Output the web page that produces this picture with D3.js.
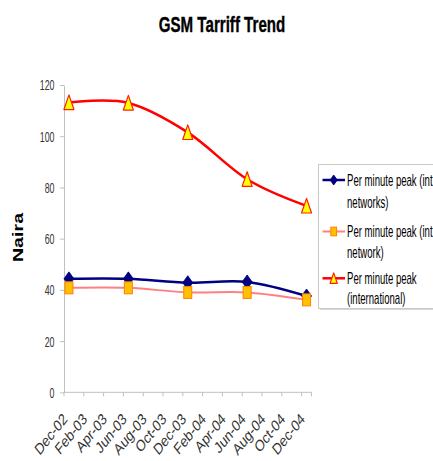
<!DOCTYPE html>
<html><head><meta charset="utf-8">
<script src="https://cdn.jsdelivr.net/npm/d3@7"></script>
<style>
html,body{margin:0;padding:0;background:#fff;overflow:hidden}
text{font-family:"Liberation Sans",Arial,sans-serif}
</style>
</head><body>
<svg id="chart" width="433" height="461"></svg>
<script>
// ---- data ----
const months = ["Dec-02","Jan-03","Feb-03","Mar-03","Apr-03","May-03","Jun-03","Jul-03","Aug-03","Sep-03","Oct-03","Nov-03",
  "Dec-03","Jan-04","Feb-04","Mar-04","Apr-04","May-04","Jun-04","Jul-04","Aug-04","Sep-04","Oct-04","Nov-04","Dec-04"];
const tickLabels = ["Dec-02","Feb-03","Apr-03","Jun-03","Aug-03","Oct-03","Dec-03","Feb-04","Apr-04","Jun-04","Aug-04","Oct-04","Dec-04"];
const dates = ["Dec-02","Jun-03","Dec-03","Jun-04","Dec-04"];
const interNetworks = [44.3, 44.3, 42.8, 43.1, 37.6];
const intraNetwork = [40.8, 40.8, 39.0, 39.0, 36.1];
const international = [113.2, 113.0, 101.5, 83.2, 72.8];
const yTicks = [0, 20, 40, 60, 80, 100, 120];
// legend texts as visible in the (cropped) original
const seriesNames = [["Per minute peak (int", "networks)"], ["Per minute peak (int", "network)"], ["Per minute peak", "(international)"]];

// ---- layout ----
const SY = 1.27; // vertical stretch of the original picture
const NX = 0.82; // narrow-font horizontal factor
const svg = d3.select("#chart");
svg.append("rect").attr("width", 433).attr("height", 461).attr("fill", "#fff");

const x = d3.scaleBand().domain(months).range([64, 311.5]).padding(0);
const y = d3.scaleLinear().domain([0, 120]).range([392.3, 85]);
const px = d => x(d) + x.bandwidth() / 2;

const series = [
  {values: interNetworks, color: "#000080", width: 2.5, marker: "diamond"},
  {values: intraNetwork, color: "#FF8080", width: 2, marker: "square"},
  {values: international, color: "#FF0000", width: 2.5, marker: "triangle"}
];

// title
svg.append("text").attr("transform", `translate(222,31.5) scale(0.84,${SY})`)
  .attr("text-anchor", "middle").attr("font-weight", "bold").attr("font-size", 18).attr("fill", "#000")
  .attr("stroke", "#000").attr("stroke-width", 0.3)
  .text("GSM Tarriff Trend");

// y axis label
svg.append("text").attr("transform", `translate(22.5,237.5) scale(1,${SY}) rotate(-90)`)
  .attr("text-anchor", "middle").attr("font-weight", "bold").attr("font-size", 15.5)
  .text("Naira");

// y axis
const gy = svg.append("g").attr("transform", "translate(64,0)")
  .call(d3.axisLeft(y).tickValues(yTicks).tickSize(4).tickSizeOuter(0));
gy.attr("font-family", null);
gy.select(".domain").attr("stroke", "#c0c0c0");
gy.selectAll(".tick line").attr("stroke", "#c0c0c0");
gy.selectAll(".tick text").attr("font-size", 10.8).attr("fill", "#333")
  .attr("transform", `translate(-9.5,0) scale(${NX},${SY})`).attr("x", 0).attr("dy", "0.36em");

// x axis
const gx = svg.append("g");
gx.append("line").attr("x1", x.range()[0]).attr("x2", x.range()[1]).attr("y1", y(0)).attr("y2", y(0)).attr("stroke", "#c0c0c0");
gx.selectAll("line.tk").data(tickLabels).join("line").attr("class", "tk")
  .attr("x1", d => x(d)).attr("x2", d => x(d)).attr("y1", y(0)).attr("y2", y(0) + 4).attr("stroke", "#c0c0c0");
gx.append("line").attr("x1", x.range()[1]).attr("x2", x.range()[1]).attr("y1", y(0)).attr("y2", y(0) + 4).attr("stroke", "#c0c0c0");
gx.selectAll("text").data(tickLabels).join("text")
  .attr("transform", d => `translate(${x(d) + 1},416) scale(1,${SY}) rotate(-45)`)
  .attr("text-anchor", "end").attr("dy", "0.35em").attr("font-size", 12.5).attr("fill", "#333").text(d => d);

// lines
const line = d3.line().x(d => px(d.date)).y(d => y(d.v)).curve(d3.curveCardinal.tension(0));
series.forEach(s => {
  const pts = dates.map((d, i) => ({date: d, v: s.values[i]}));
  svg.append("path").datum(pts).attr("d", line).attr("fill", "none")
    .attr("stroke", s.color).attr("stroke-width", s.width).attr("stroke-linejoin", "round");
});

// markers
function marker(g, type, cx, cy, k) {
  if (type === "diamond") {
    const w = 5 * k, h = 7 * k;
    g.append("path").attr("d", `M${cx},${cy - h}L${cx + w},${cy}L${cx},${cy + h}L${cx - w},${cy}Z`).attr("fill", "#000080").attr("stroke", "#000080").attr("stroke-width", 0.8);
  } else if (type === "square") {
    const w = 4 * k, h = 6 * k;
    g.append("rect").attr("x", cx - w).attr("y", cy - h).attr("width", 2 * w).attr("height", 2 * h)
      .attr("fill", "#FFC000").attr("stroke", "#FF8000").attr("stroke-width", 1);
  } else {
    const w = 5 * k, h = 7.5 * k;
    g.append("path").attr("d", `M${cx},${cy - h}L${cx + w},${cy + h * 0.95}L${cx - w},${cy + h * 0.95}Z`)
      .attr("fill", "#FFFF00").attr("stroke", "#FF2000").attr("stroke-width", 1.2).attr("stroke-linejoin", "round");
  }
}
const gm = svg.append("g");
series.forEach(s => dates.forEach((d, i) => marker(gm, s.marker, px(d), y(s.values[i]), 1)));

// legend
const lg = svg.append("g");
lg.append("rect").attr("x", 320).attr("y", 166).attr("width", 130).attr("height", 144).attr("fill", "#d8d8d8");
lg.append("rect").attr("x", 318.5).attr("y", 164.5).attr("width", 130).attr("height", 144)
  .attr("fill", "#fff").attr("stroke", "#c8c8c8").attr("stroke-width", 1);
const symY = [180, 231.5, 278.3];
const textY = [[180, 202], [231, 252], [278, 298.5]];
series.forEach((s, i) => {
  lg.append("line").attr("x1", 322.5).attr("x2", 345).attr("y1", symY[i]).attr("y2", symY[i])
    .attr("stroke", s.color).attr("stroke-width", s.width);
  marker(lg, s.marker, 333.7, symY[i], 0.72);
  seriesNames[i].forEach((t, j) => {
    lg.append("text").attr("transform", `translate(347,${textY[i][j]}) scale(0.76,${SY})`)
      .attr("dy", "0.35em").attr("font-size", 12.6).attr("fill", "#000").text(t);
  });
});
</script>
</body></html>
